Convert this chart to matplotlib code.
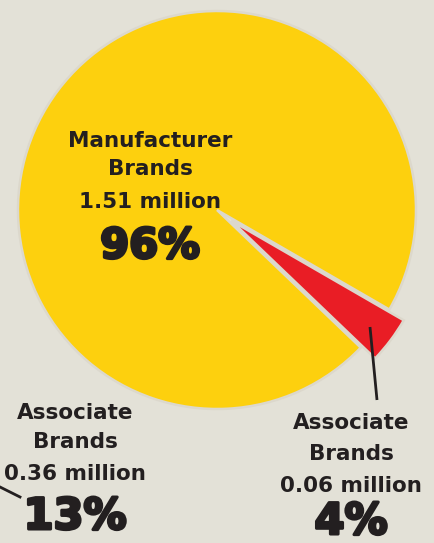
import matplotlib.pyplot as plt
import matplotlib.patheffects as pe

# brand split of the pie
labels = ['Manufacturer\nBrands', 'Associate\nBrands']
millions = [1.51, 0.06]
percents = [96, 4]
colors = ['#FDD00E', '#E91D25']

# second associate-brands figure shown at the lower left
side_label = 'Associate\nBrands'
side_millions = 0.36
side_percent = 13

bg = '#e3e1d7'
ink = '#231f20'

W, H = 435, 543
fig = plt.figure(figsize=(W / 100, H / 100), dpi=100, facecolor=bg)
ax = fig.add_axes([0, 0, 1, 1])
ax.set_facecolor(bg)

# pie in pixel coordinates (y measured from the bottom)
cx, cy, r = 217, H - 210, 199
ax.pie(millions, colors=colors, startangle=-30, counterclock=True,
       center=(cx, cy), radius=r, explode=[0, 18],
       wedgeprops=dict(edgecolor='#dcd8cc', linewidth=1.8))

ax.set_xlim(0, W)
ax.set_ylim(0, H)
ax.set_aspect('equal')
ax.axis('off')

font = ['DejaVu Sans']
heavy = [pe.withStroke(linewidth=2.2, foreground=ink)]


def label(x, baselines, name, value, pct, pct_size):
    lines = name.split('\n') + [f'{value:.2f} million']
    for line, yb in zip(lines, baselines[:-1]):
        ax.text(x, H - yb, line, ha='center', va='baseline', fontsize=15.5,
                fontweight='bold', color=ink, family=font)
    ax.text(x, H - baselines[-1], f'{pct}%', ha='center', va='baseline',
            fontsize=pct_size, fontweight='bold', color=ink, family=font,
            path_effects=heavy)


label(150, [147, 175, 208, 258], labels[0], millions[0], percents[0], 30)

# small slice label with its leader line
ax.plot([370, 377], [H - 327, H - 400], color=ink, lw=2, solid_capstyle='butt')
label(351, [429, 460, 492, 534], labels[1], millions[1], percents[1], 31)

# lower-left label
ax.plot([0, 20], [H - 487, H - 497], color=ink, lw=2)
label(75, [419, 448, 480, 529], side_label, side_millions, side_percent, 31)

fig.savefig('out.png', dpi=100, facecolor=bg)
